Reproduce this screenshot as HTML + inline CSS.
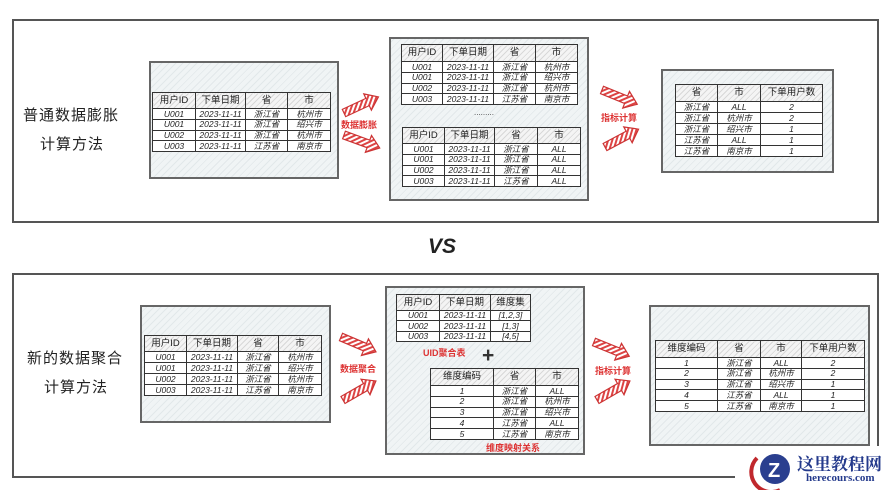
<!DOCTYPE html>
<html><head><meta charset="utf-8"><style>
body{margin:0;width:889px;height:490px;background:#fff;position:relative;overflow:hidden;font-family:"Liberation Sans","Noto Sans CJK SC",sans-serif}
.a{position:absolute}
.frame{position:absolute;border:2px solid #555;box-sizing:border-box}
.p{position:absolute;border:2px solid #666;box-sizing:border-box;background:#f0f4f5 repeating-linear-gradient(-45deg,#f0f4f5 0 4px,#e2e8ea 4px 5px)}
table{position:absolute;border-collapse:collapse;table-layout:fixed;background:#fff}
td{border:1.5px solid #333;font-size:8.5px;text-align:center;padding:0;line-height:1;color:#222;overflow:hidden;white-space:nowrap;font-style:italic}
tr.h td{background:repeating-linear-gradient(-45deg,#f4f4f4 0 3px,#d8d8d8 3px 4px);font-size:9.5px;font-style:normal}
.lbl{position:absolute;font-size:15px;color:#222;letter-spacing:1px}
.red{position:absolute;color:#d33;font-size:9px;font-weight:bold}
</style></head><body>
<div class="frame" style="left:12px;top:19px;width:867px;height:204px"></div>
<div class="frame" style="left:12px;top:273px;width:867px;height:205px"></div>
<div class="a" style="left:428px;top:235px;font-size:21px;font-weight:bold;font-style:italic;color:#222">VS</div>

<div class="lbl" style="left:23px;top:104px">普通数据膨胀</div>
<div class="lbl" style="left:40px;top:133px">计算方法</div>
<div class="lbl" style="left:27px;top:347px">新的数据聚合</div>
<div class="lbl" style="left:44px;top:376px">计算方法</div>

<div class="p" style="left:149px;top:61px;width:190px;height:118px"></div>
<table style="left:152px;top:92px;width:178px;height:60px">
<colgroup><col style="width:43px"><col style="width:50px"><col style="width:42px"><col style="width:43px"></colgroup>
<tr class="h" style="height:16px"><td>用户ID</td><td>下单日期</td><td>省</td><td>市</td></tr>
<tr><td>U001</td><td>2023-11-11</td><td>浙江省</td><td>杭州市</td></tr>
<tr><td>U001</td><td>2023-11-11</td><td>浙江省</td><td>绍兴市</td></tr>
<tr><td>U002</td><td>2023-11-11</td><td>浙江省</td><td>杭州市</td></tr>
<tr><td>U003</td><td>2023-11-11</td><td>江苏省</td><td>南京市</td></tr>
</table>

<div class="p" style="left:389px;top:37px;width:200px;height:164px"></div>
<table style="left:401px;top:44px;width:176px;height:61px">
<colgroup><col style="width:41px"><col style="width:51px"><col style="width:42px"><col style="width:42px"></colgroup>
<tr class="h" style="height:17px"><td>用户ID</td><td>下单日期</td><td>省</td><td>市</td></tr>
<tr><td>U001</td><td>2023-11-11</td><td>浙江省</td><td>杭州市</td></tr>
<tr><td>U001</td><td>2023-11-11</td><td>浙江省</td><td>绍兴市</td></tr>
<tr><td>U002</td><td>2023-11-11</td><td>浙江省</td><td>杭州市</td></tr>
<tr><td>U003</td><td>2023-11-11</td><td>江苏省</td><td>南京市</td></tr>
</table>
<div class="a" style="left:474px;top:108px;font-size:8px;color:#444">.........</div>
<table style="left:402px;top:127px;width:178px;height:60px">
<colgroup><col style="width:42px"><col style="width:50px"><col style="width:43px"><col style="width:43px"></colgroup>
<tr class="h" style="height:16px"><td>用户ID</td><td>下单日期</td><td>省</td><td>市</td></tr>
<tr><td>U001</td><td>2023-11-11</td><td>浙江省</td><td>ALL</td></tr>
<tr><td>U001</td><td>2023-11-11</td><td>浙江省</td><td>ALL</td></tr>
<tr><td>U002</td><td>2023-11-11</td><td>浙江省</td><td>ALL</td></tr>
<tr><td>U003</td><td>2023-11-11</td><td>江苏省</td><td>ALL</td></tr>
</table>

<div class="p" style="left:661px;top:69px;width:173px;height:104px"></div>
<table style="left:675px;top:84px;width:147px;height:73px">
<colgroup><col style="width:42px"><col style="width:43px"><col style="width:62px"></colgroup>
<tr class="h" style="height:17px"><td>省</td><td>市</td><td>下单用户数</td></tr>
<tr><td>浙江省</td><td>ALL</td><td>2</td></tr>
<tr><td>浙江省</td><td>杭州市</td><td>2</td></tr>
<tr><td>浙江省</td><td>绍兴市</td><td>1</td></tr>
<tr><td>江苏省</td><td>ALL</td><td>1</td></tr>
<tr><td>江苏省</td><td>南京市</td><td>1</td></tr>
</table>

<div class="p" style="left:140px;top:305px;width:191px;height:118px"></div>
<table style="left:144px;top:335px;width:177px;height:61px">
<colgroup><col style="width:42px"><col style="width:51px"><col style="width:41px"><col style="width:43px"></colgroup>
<tr class="h" style="height:16px"><td>用户ID</td><td>下单日期</td><td>省</td><td>市</td></tr>
<tr><td>U001</td><td>2023-11-11</td><td>浙江省</td><td>杭州市</td></tr>
<tr><td>U001</td><td>2023-11-11</td><td>浙江省</td><td>绍兴市</td></tr>
<tr><td>U002</td><td>2023-11-11</td><td>浙江省</td><td>杭州市</td></tr>
<tr><td>U003</td><td>2023-11-11</td><td>江苏省</td><td>南京市</td></tr>
</table>

<div class="p" style="left:385px;top:286px;width:200px;height:169px"></div>
<table style="left:396px;top:294px;width:134px;height:48px">
<colgroup><col style="width:43px"><col style="width:51px"><col style="width:40px"></colgroup>
<tr class="h" style="height:16px"><td>用户ID</td><td>下单日期</td><td>维度集</td></tr>
<tr><td>U001</td><td>2023-11-11</td><td>[1,2,3]</td></tr>
<tr><td>U002</td><td>2023-11-11</td><td>[1,3]</td></tr>
<tr><td>U003</td><td>2023-11-11</td><td>[4,5]</td></tr>
</table>
<div class="red" style="left:423px;top:346px">UID聚合表</div>
<div class="a" style="left:482px;top:344px;font-size:21px;font-weight:bold;color:#333">+</div>
<table style="left:430px;top:368px;width:148px;height:72px">
<colgroup><col style="width:63px"><col style="width:42px"><col style="width:43px"></colgroup>
<tr class="h" style="height:17px"><td>维度编码</td><td>省</td><td>市</td></tr>
<tr><td>1</td><td>浙江省</td><td>ALL</td></tr>
<tr><td>2</td><td>浙江省</td><td>杭州市</td></tr>
<tr><td>3</td><td>浙江省</td><td>绍兴市</td></tr>
<tr><td>4</td><td>江苏省</td><td>ALL</td></tr>
<tr><td>5</td><td>江苏省</td><td>南京市</td></tr>
</table>
<div class="red" style="left:486px;top:441px">维度映射关系</div>

<div class="p" style="left:649px;top:305px;width:221px;height:141px"></div>
<table style="left:655px;top:340px;width:209px;height:72px">
<colgroup><col style="width:62px"><col style="width:43px"><col style="width:41px"><col style="width:63px"></colgroup>
<tr class="h" style="height:17px"><td>维度编码</td><td>省</td><td>市</td><td>下单用户数</td></tr>
<tr><td>1</td><td>浙江省</td><td>ALL</td><td>2</td></tr>
<tr><td>2</td><td>浙江省</td><td>杭州市</td><td>2</td></tr>
<tr><td>3</td><td>浙江省</td><td>绍兴市</td><td>1</td></tr>
<tr><td>4</td><td>江苏省</td><td>ALL</td><td>1</td></tr>
<tr><td>5</td><td>江苏省</td><td>南京市</td><td>1</td></tr>
</table>

<svg class="a" style="left:0;top:0" width="889" height="490">
<defs>
<pattern id="hp" width="4" height="4" patternUnits="userSpaceOnUse" patternTransform="rotate(45)">
<rect width="4" height="4" fill="#fff"/><rect width="2" height="4" fill="#d44"/></pattern>
<g id="arr"><polygon points="0,-4 26,-4 26,-9 38,0 26,9 26,4 0,4" fill="url(#hp)" stroke="#c33" stroke-width="1.2"/></g>
</defs>
<use href="#arr" transform="translate(344,113) rotate(-25)"/>
<use href="#arr" transform="translate(344,135) rotate(20)"/>
<use href="#arr" transform="translate(602,90) rotate(22)"/>
<use href="#arr" transform="translate(605,147) rotate(-28)"/>
<use href="#arr" transform="translate(341,337) rotate(23)"/>
<use href="#arr" transform="translate(343,400) rotate(-30)"/>
<use href="#arr" transform="translate(594,342) rotate(22)"/>
<use href="#arr" transform="translate(597,400) rotate(-30)"/>
<rect x="735" y="446" width="154" height="44" fill="#fff"/>
<circle cx="775" cy="469" r="15" fill="#2a3f8f"/>
<path d="M757,458 A20,20 0 0 0 780,490" stroke="#c0282d" stroke-width="4" fill="none"/>
<text x="768" y="477" font-size="20" font-weight="bold" fill="#fff" font-family="Liberation Sans">Z</text>
</svg>
<div class="red" style="left:341px;top:118px">数据膨胀</div>
<div class="red" style="left:601px;top:111px">指标计算</div>
<div class="red" style="left:340px;top:362px">数据聚合</div>
<div class="red" style="left:595px;top:364px">指标计算</div>
<div class="a" style="left:797px;top:450px;font-size:17px;font-weight:bold;color:#243a8c;font-family:'Liberation Serif','Noto Serif CJK SC',serif">这里教程网</div>
<div class="a" style="left:806px;top:472px;font-size:11px;font-weight:bold;color:#243a8c;font-family:'Liberation Serif',serif">herecours.com</div>
</body></html>
